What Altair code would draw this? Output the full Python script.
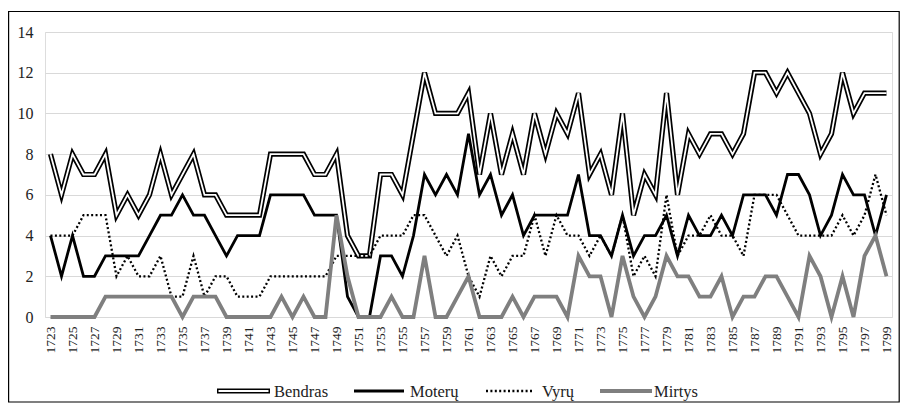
import altair as alt
import pandas as pd

years = list(range(1723, 1800))

bendras = [8, 6, 8, 7, 7, 8, 5, 6, 5, 6, 8, 6, 7, 8, 6, 6, 5, 5, 5, 5,
           8, 8, 8, 8, 7, 7, 8, 4, 3, 3, 7, 7, 6, 9, 12, 10, 10, 10, 11, 7,
           10, 7, 9, 7, 10, 8, 10, 9, 11, 7, 8, 6, 10, 5, 7, 6, 11, 6, 9, 8,
           9, 9, 8, 9, 12, 12, 11, 12, 11, 10, 8, 9, 12, 10, 11, 11, 11]
moteru = [4, 2, 4, 2, 2, 3, 3, 3, 3, 4, 5, 5, 6, 5, 5, 4, 3, 4, 4, 4,
          6, 6, 6, 6, 5, 5, 5, 1, 0, 0, 3, 3, 2, 4, 7, 6, 7, 6, 9, 6,
          7, 5, 6, 4, 5, 5, 5, 5, 7, 4, 4, 3, 5, 3, 4, 4, 5, 3, 5, 4,
          4, 5, 4, 6, 6, 6, 5, 7, 7, 6, 4, 5, 7, 6, 6, 4, 6]
vyru = [4, 4, 4, 5, 5, 5, 2, 3, 2, 2, 3, 1, 1, 3, 1, 2, 2, 1, 1, 1,
        2, 2, 2, 2, 2, 2, 3, 3, 3, 3, 4, 4, 4, 5, 5, 4, 3, 4, 2, 1,
        3, 2, 3, 3, 5, 3, 5, 4, 4, 3, 4, 3, 5, 2, 3, 2, 6, 3, 4, 4,
        5, 4, 4, 3, 6, 6, 6, 5, 4, 4, 4, 4, 5, 4, 5, 7, 5]
mirtys = [0, 0, 0, 0, 0, 1, 1, 1, 1, 1, 1, 1, 0, 1, 1, 1, 0, 0, 0, 0,
          0, 1, 0, 1, 0, 0, 5, 2, 0, 0, 0, 1, 0, 0, 3, 0, 0, 1, 2, 0,
          0, 0, 1, 0, 1, 1, 1, 0, 3, 2, 2, 0, 3, 1, 0, 1, 3, 2, 2, 1,
          1, 2, 0, 1, 1, 2, 2, 1, 0, 3, 2, 0, 2, 0, 3, 4, 2]

series_names = ["Bendras", "Moterų", "Vyrų", "Mirtys"]
x_tick_values = list(range(1723, 1800, 2))
y_tick_values = list(range(0, 15, 2))

FONT = "Liberation Serif"
W, H = 847, 285

def frame(vals):
    return pd.DataFrame({"Metai": years, "Reikšmė": vals})

x_enc = alt.X("Metai:Q",
              scale=alt.Scale(domain=[1722.5, 1799.5], nice=False, zero=False),
              axis=alt.Axis(values=x_tick_values, format="d", labelAngle=-90,
                            grid=False, domain=False, ticks=False,
                            labelFont=FONT, labelFontSize=13.5, labelColor="#222",
                            labelPadding=9, title=None, labelOverlap=False))
y_enc = alt.Y("Reikšmė:Q",
              scale=alt.Scale(domain=[0, 14], nice=False),
              axis=alt.Axis(values=y_tick_values, grid=True, gridColor="#d9d9d9",
                            gridWidth=1.2, domain=False, ticks=False,
                            labelFont=FONT, labelFontSize=16, labelColor="#222",
                            labelPadding=12, title=None))

def line(vals, color, width, dash=None):
    kw = dict(color=color, strokeWidth=width, clip=False)
    if dash:
        kw["strokeDash"] = dash
    return alt.Chart(frame(vals)).mark_line(**kw).encode(x=x_enc, y=y_enc)

b_outer = line(bendras, "black", 5.2)
b_inner = line(bendras, "white", 1.8)
m_line = line(moteru, "black", 2.8)
v_line = line(vyru, "black", 2.3, [2, 2.4])
d_line = line(mirtys, "#7f7f7f", 3.8)

one = pd.DataFrame({"k": [0]})
border = alt.Chart(one).mark_rect(fillOpacity=0, stroke="black", strokeWidth=1.2).encode(
    x=alt.value(-36.4), x2=alt.value(W + 7.2), y=alt.value(-20.5), y2=alt.value(H + 85))

# manual legend
leg_y = H + 74
leg_items = [
    (series_names[0], 172, 225, 229),
    (series_names[1], 309, 359, 365),
    (series_names[2], 441, 487, 497),
    (series_names[3], 555, 607, 609),
]
legend_layers = []
for i, (name, a, b, t) in enumerate(leg_items):
    d = pd.DataFrame({"label": [name]})
    if i == 0:
        legend_layers.append(alt.Chart(d).mark_rule(color="black", strokeWidth=5.2).encode(
            x=alt.value(a), x2=alt.value(b), y=alt.value(leg_y)))
        legend_layers.append(alt.Chart(d).mark_rule(color="white", strokeWidth=1.8).encode(
            x=alt.value(a + 1.5), x2=alt.value(b - 1.5), y=alt.value(leg_y)))
    elif i == 1:
        legend_layers.append(alt.Chart(d).mark_rule(color="black", strokeWidth=2.8).encode(
            x=alt.value(a), x2=alt.value(b), y=alt.value(leg_y)))
    elif i == 2:
        legend_layers.append(alt.Chart(d).mark_rule(color="black", strokeWidth=2.3, strokeDash=[2, 2.4]).encode(
            x=alt.value(a), x2=alt.value(b), y=alt.value(leg_y)))
    else:
        legend_layers.append(alt.Chart(d).mark_rule(color="#7f7f7f", strokeWidth=3.8).encode(
            x=alt.value(a), x2=alt.value(b), y=alt.value(leg_y)))
    legend_layers.append(alt.Chart(d).mark_text(
        align="left", baseline="middle", font=FONT, fontSize=16.5, color="#222").encode(
        x=alt.value(t), y=alt.value(leg_y + 1), text="label:N"))

chart = alt.layer(border, b_outer, b_inner, m_line, v_line, d_line, *legend_layers).properties(
    width=W, height=H,
    autosize=alt.AutoSizeParams(type="none"),
    padding={"left": 37, "top": 24, "right": 8, "bottom": 86},
).configure_view(stroke=None).configure(background="white")

chart.save("out.html", embed_options={"renderer": "svg", "actions": False})
